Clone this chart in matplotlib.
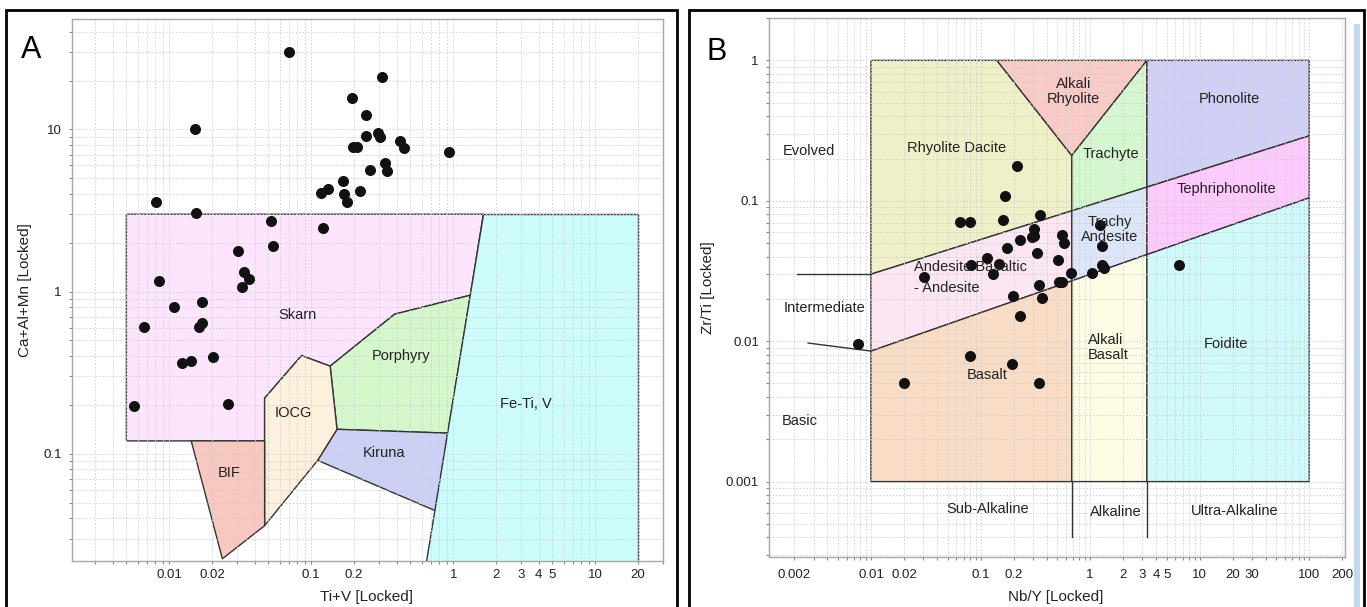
import numpy as np
import matplotlib
matplotlib.use('Agg')
import matplotlib.pyplot as plt
from matplotlib.patches import Rectangle
from matplotlib.lines import Line2D
from matplotlib.ticker import LogLocator, NullFormatter

plt.rcParams['font.family'] = ['Liberation Sans', 'DejaVu Sans']

W, H = 1367, 607

# ---- panel A : Ti+V vs Ca+Al+Mn ----
a_x = [0.0703, 0.315, 0.194, 0.243, 0.243, 0.295, 0.303, 0.198, 0.210, 0.419, 0.447,
       0.927, 0.332, 0.344, 0.26, 0.167, 0.131, 0.117, 0.171, 0.222, 0.178, 0.052, 0.121,
       0.0152, 0.00805, 0.0154, 0.0542, 0.0306, 0.0335, 0.0362, 0.0328, 0.00855, 0.0109,
       0.0171, 0.0169, 0.0163, 0.0066, 0.0205, 0.0123, 0.0143, 0.026, 0.0057]
a_y = [30.0, 21.2, 15.6, 12.2, 9.14, 9.5, 8.98, 7.85, 7.85, 8.43, 7.68,
       7.25, 6.25, 5.56, 5.64, 4.84, 4.31, 4.08, 4.01, 4.17, 3.56, 2.72, 2.47,
       10.0, 3.56, 3.05, 1.92, 1.78, 1.32, 1.19, 1.06, 1.16, 0.807,
       0.857, 0.644, 0.609, 0.608, 0.396, 0.361, 0.373, 0.202, 0.198]

skarn = [(0.005, 3), (1.63, 3), (1.32, 0.95), (0.387, 0.726), (0.136, 0.347),
         (0.0855, 0.403), (0.047, 0.22), (0.047, 0.12), (0.005, 0.12)]
porphyry = [(1.32, 0.95), (0.387, 0.726), (0.136, 0.347), (0.152, 0.1415), (0.917, 0.134)]
kiruna = [(0.152, 0.1415), (0.917, 0.134), (0.75, 0.0445), (0.111, 0.091)]
iocg = [(0.0855, 0.403), (0.136, 0.347), (0.152, 0.1415), (0.111, 0.091),
        (0.047, 0.036), (0.047, 0.22)]
bif = [(0.0143, 0.12), (0.047, 0.12), (0.047, 0.036), (0.0237, 0.0225)]
feti = [(1.63, 3), (20, 3), (20, 0.01), (0.56, 0.01)]

a_fields = [skarn, porphyry, kiruna, iocg, bif, feti]
a_colors = ['#fde6fd', '#d4f7cc', '#cdd0f5', '#fdf0dc', '#f7c8c0', '#ccfcfc']

a_names = ['Skarn', 'Porphyry', 'IOCG', 'Fe-Ti, V', 'Kiruna', 'BIF']
a_lx = [0.080, 0.43, 0.075, 3.27, 0.328, 0.0265]
a_ly = [0.718, 0.403, 0.178, 0.202, 0.1017, 0.076]

a_xticks = [0.01, 0.02, 0.1, 0.2, 1, 2, 3, 4, 5, 10, 20]
a_xlabels = ['0.01', '0.02', '0.1', '0.2', '1', '2', '3', '4', '5', '10', '20']
a_yticks = [0.1, 1, 10]
a_ylabels = ['0.1', '1', '10']

# ---- panel B : Nb/Y vs Zr/Ti ----
b_x = [0.216, 0.166, 0.0649, 0.08, 0.161, 0.351, 0.306, 0.306, 0.292, 0.228, 0.553,
       0.578, 0.174, 0.329, 0.115, 0.147, 0.0815, 0.514, 0.131, 0.0307, 0.664, 0.519,
       0.55, 0.341, 0.197, 0.361, 0.228, 0.0076, 0.08, 0.194, 0.0202, 0.341, 1.03,
       1.22, 1.29, 1.29, 1.34, 6.49]
b_y = [0.178, 0.109, 0.0702, 0.0702, 0.0733, 0.0786, 0.063, 0.0562, 0.0555, 0.0528, 0.0573,
       0.0502, 0.0459, 0.0423, 0.039, 0.0357, 0.035, 0.0378, 0.0299, 0.0286, 0.0305, 0.0263,
       0.0263, 0.025, 0.0211, 0.0202, 0.0152, 0.0096, 0.0078, 0.00684, 0.00502, 0.00502, 0.0308,
       0.0667, 0.0474, 0.0348, 0.0333, 0.035]

b_split = [0.68, 3.3]                 # sub-alkaline / alkaline / ultra-alkaline
b_upper = [(0.01, 0.03), (100, 0.29)]  # evolved / intermediate
b_lower = [(0.01, 0.0085), (100, 0.105)]  # intermediate / basic
b_apex = (0.68, 0.21)
b_rhy_left = 0.141


def on_line(seg, x):
    (x0, y0), (x1, y1) = seg
    t = (np.log10(x) - np.log10(x0)) / (np.log10(x1) - np.log10(x0))
    return 10 ** (np.log10(y0) + t * (np.log10(y1) - np.log10(y0)))


s1, s2 = b_split
u1, u2 = on_line(b_upper, s1), on_line(b_upper, s2)
l1, l2 = on_line(b_lower, s1), on_line(b_lower, s2)
uy0, uy1 = b_upper[0][1], b_upper[1][1]
ly0, ly1 = b_lower[0][1], b_lower[1][1]

b_fields = [
    [(0.01, 1), (b_rhy_left, 1), b_apex, (s1, u1), (0.01, uy0)],
    [(b_rhy_left, 1), (s2, 1), b_apex],
    [b_apex, (s2, 1), (s2, u2), (s1, u1)],
    [(s2, 1), (100, 1), (100, uy1), (s2, u2)],
    [(0.01, uy0), (s1, u1), (s1, l1), (0.01, ly0)],
    [(s1, u1), (s2, u2), (s2, l2), (s1, l1)],
    [(s2, u2), (100, uy1), (100, ly1), (s2, l2)],
    [(0.01, ly0), (s1, l1), (s1, 0.001), (0.01, 0.001)],
    [(s1, l1), (s2, l2), (s2, 0.001), (s1, 0.001)],
    [(s2, l2), (100, ly1), (100, 0.001), (s2, 0.001)],
]
b_colors = ['#eff0c8', '#f8cbc6', '#d4f7d0', '#d0d0f7', '#fde6f3',
            '#dde6f8', '#fdcafd', '#f9dcc6', '#fdfde6', '#d0fafa']

b_names = ['Evolved', 'Rhyolite Dacite', 'Alkali\nRhyolite', 'Phonolite', 'Trachyte',
           'Tephriphonolite', 'Trachy\nAndesite', 'Intermediate', 'Foidite', 'Basalt',
           'Basic', 'Sub-Alkaline', 'Alkaline', 'Ultra-Alkaline']
b_lx = [0.0027, 0.06, 0.71, 18.8, 1.55, 17.7, 1.5, 0.0038, 17.4, 0.115, 0.00226, 0.117, 1.7, 20.9]
b_ly = [0.226, 0.236, 0.6, 0.53, 0.215, 0.122, 0.062, 0.0172, 0.0096, 0.00577, 0.0027,
        0.00064, 0.00061, 0.00062]

b_xticks = [0.002, 0.01, 0.02, 0.1, 0.2, 1, 2, 3, 4, 5, 10, 20, 30, 100, 200]
b_xlabels = ['0.002', '0.01', '0.02', '0.1', '0.2', '1', '2', '3', '4', '5', '10', '20',
             '30', '100', '200']
b_yticks = [0.001, 0.01, 0.1, 1]
b_ylabels = ['0.001', '0.01', '0.1', '1']


def style_axes(ax, xt, xl, yt, yl, fs, xpad):
    ax.set_xscale('log')
    ax.set_yscale('log')
    ax.set_xticks(xt, xl)
    ax.set_yticks(yt, yl)
    ax.xaxis.set_minor_locator(LogLocator(base=10, subs=np.arange(2, 10)))
    ax.yaxis.set_minor_locator(LogLocator(base=10, subs=np.arange(2, 10)))
    ax.xaxis.set_minor_formatter(NullFormatter())
    ax.yaxis.set_minor_formatter(NullFormatter())
    ax.tick_params(which='both', direction='out', length=2.5, width=0.8,
                   color='#888888', labelcolor='#222222', labelsize=fs)
    ax.tick_params(axis='x', which='both', pad=xpad)
    ax.tick_params(axis='y', which='both', pad=5)
    ax.grid(True, which='both', color='#cfcfcf', linestyle=(0, (2, 2)), linewidth=0.6)
    for sp in ax.spines.values():
        sp.set_color('#a8a8a8')
        sp.set_linewidth(1.0)


fig = plt.figure(figsize=(W / 100, H / 100), dpi=100)
fig.patch.set_facecolor('white')

# panel frames (bottom edge falls outside the image)
for x0, x1 in [(6, 677), (689, 1364)]:
    fig.add_artist(Rectangle((x0 / W, -0.05), (x1 - x0) / W, 1.05 - 10 / H,
                             transform=fig.transFigure, fill=False, edgecolor='black',
                             linewidth=2))
fig.add_artist(Rectangle((1354 / W, 0), 6 / W, 1 - 24 / H, transform=fig.transFigure,
                         facecolor='#c6d8ef', edgecolor='none'))

# ---- A ----
axA = fig.add_axes([72 / W, 1 - 561 / H, 591 / W, 542 / H])
for poly, c in zip(a_fields, a_colors):
    px, py = zip(*poly)
    axA.fill(px, py, facecolor=c, edgecolor='#333333', linewidth=1.0, zorder=1)
axA.scatter(a_x, a_y, s=48, color='#111111', zorder=3)
for name, x, y in zip(a_names, a_lx, a_ly):
    axA.text(x, y, name, ha='center', va='center', fontsize=10.5, color='#222222', zorder=4)
axA.set_xlim(0.00207, 30)
axA.set_ylim(0.0218, 48)
style_axes(axA, a_xticks, a_xlabels, a_yticks, a_ylabels, 9.5, 3)

fig.text(367 / W, 1 - 597 / H, 'Ti+V [Locked]', ha='center', va='center',
         fontsize=11, color='#222222')
fig.text(25 / W, 1 - 290 / H, 'Ca+Al+Mn [Locked]', ha='center', va='center',
         rotation=90, fontsize=11, color='#222222')
fig.text(31 / W, 1 - 50 / H, 'A', ha='center', va='center', fontsize=22)

# ---- B ----
axB = fig.add_axes([769.3 / W, 1 - 557.3 / H, 575.7 / W, 539.2 / H])
for poly, c in zip(b_fields, b_colors):
    px, py = zip(*poly)
    axB.fill(px, py, facecolor=c, edgecolor='#333333', linewidth=1.0, zorder=1)
for s in b_split:
    axB.add_line(Line2D([s, s], [0.001, 0.0004], color='#333333', linewidth=1.0, zorder=2))
axB.add_line(Line2D([0.0021, 0.01], [uy0, uy0], color='#333333', linewidth=1.0, zorder=2))
axB.add_line(Line2D([0.00267, 0.01], [0.0097, ly0], color='#333333', linewidth=1.0, zorder=2))
axB.scatter(b_x, b_y, s=48, color='#111111', zorder=3)
for name, x, y in zip(b_names, b_lx, b_ly):
    axB.text(x, y, name, ha='center', va='center', fontsize=10.5, color='#222222',
             zorder=4, linespacing=1.1)
axB.text(0.0249, 0.0335, 'Andesite Basaltic', ha='left', va='center', fontsize=10.5,
         color='#222222', zorder=4)
axB.text(0.0249, 0.024, '- Andesite', ha='left', va='center', fontsize=10.5,
         color='#222222', zorder=4)
axB.text(0.955, 0.009, 'Alkali\nBasalt', ha='left', va='center', fontsize=10.5,
         color='#222222', zorder=4, linespacing=1.1)
axB.set_xlim(0.00118, 212)
axB.set_ylim(0.000289, 2.0)
style_axes(axB, b_xticks, b_xlabels, b_yticks, b_ylabels, 9.5, 6)

fig.text(1056 / W, 1 - 597 / H, 'Nb/Y [Locked]', ha='center', va='center',
         fontsize=11, color='#222222')
fig.text(708 / W, 1 - 288 / H, 'Zr/Ti [Locked]', ha='center', va='center',
         rotation=90, fontsize=11, color='#222222')
fig.text(717 / W, 1 - 52 / H, 'B', ha='center', va='center', fontsize=22)

fig.savefig('out.png', dpi=100)
